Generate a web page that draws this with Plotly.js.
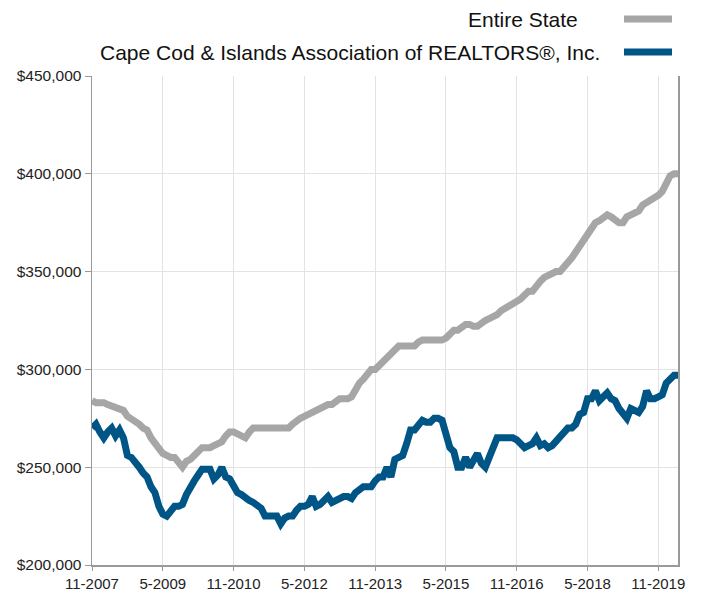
<!DOCTYPE html>
<html>
<head>
<meta charset="utf-8">
<script src="https://cdn.plot.ly/plotly-3.0.1.min.js"></script>
<style>html,body{margin:0;padding:0;background:#fff}#chart{width:702px;height:592px}</style>
</head>
<body>
<div id="chart"></div>
<script>
// Monthly categories from 11-2007 to 4-2020
const startYear = 2007, startMonth = 11, nMonths = 150;
const months = [];
for (let i = 0; i < nMonths; i++) {
  const t = (startMonth - 1) + i;
  months.push(((t % 12) + 1) + '-' + (startYear + Math.floor(t / 12)));
}

const seriesNames = ['Entire State', 'Cape Cod & Islands Association of REALTORS®, Inc.'];

const entireState = [
  284000,283000,283000,283000,282000,281000,280000,280000,279000,276000,
  275000,274000,272000,270000,269000,265000,262000,259000,257000,256000,
  255000,255000,253000,250000,253000,254000,256000,258000,260000,260000,
  260000,261000,262000,263000,266000,268000,268000,267000,266000,265000,
  268000,270000,270000,270000,270000,270000,270000,270000,270000,270000,
  270000,272000,274000,275000,276000,277000,278000,279000,280000,281000,
  282000,282000,283000,285000,285000,285000,286000,290000,293000,295000,
  298000,300000,300000,302000,304000,307000,309000,310000,312000,312000,
  312000,312000,312000,314000,315000,315000,315000,315000,315000,315000,
  316000,318000,320000,320000,322000,323000,323000,322000,322000,324000,
  325000,326000,327000,328000,330000,331000,333000,334000,335000,336000,
  338000,340000,340000,343000,345000,347000,348000,349000,350000,350000,
  352000,355000,357000,360000,363000,366000,369000,372000,375000,376000,
  378000,379000,378000,377000,375000,375000,378000,379000,380000,381000,
  384000,385000,386000,387000,389000,391000,395000,399000,400000,400000
];

const capeCod = [
  270000,272000,268000,265000,268000,270000,266000,269000,265000,256000,
  255000,253000,250000,247000,245000,240000,237000,230000,226000,225000,
  228000,230000,230000,231000,236000,240000,243000,246000,249000,249000,
  249000,244000,246000,250000,245000,244000,241000,237000,236000,234000,
  233000,232000,230000,229000,225000,225000,225000,225000,221000,224000,
  225000,225000,228000,230000,230000,231000,235000,230000,231000,233000,
  235000,232000,233000,234000,235000,235000,234000,237000,239000,240000,
  240000,240000,243000,245000,245000,250000,245000,254000,255000,256000,
  262000,269000,269000,271000,274000,273000,273000,275000,275000,274000,
  265000,260000,258000,250000,250000,255000,250000,254000,257000,252000,
  250000,255000,260000,265000,265000,265000,265000,265000,264000,262000,
  260000,261000,262000,265000,261000,262000,260000,261000,263000,266000,
  268000,270000,270000,272000,277000,278000,285000,285000,289000,284000,
  286000,288000,285000,284000,280000,278000,275000,280000,279000,278000,
  281000,289000,285000,285000,286000,287000,293000,295000,297000,297000
];

const tickLabels = ['11-2007','5-2009','11-2010','5-2012','11-2013','5-2015','11-2016','5-2018','11-2019'];
const yTicks = [200000, 250000, 300000, 350000, 400000, 450000];
const yTickLabels = ['$200,000', '$250,000', '$300,000', '$350,000', '$400,000', '$450,000'];

const grayColor = '#a6a6a6';
const blueColor = '#005587';
const font = 'Liberation Sans, Arial, Helvetica, sans-serif';

const traces = [
  {x: months, y: entireState, name: seriesNames[0], type: 'scatter', mode: 'lines',
   line: {color: grayColor, width: 7}, showlegend: false},
  {x: months, y: capeCod, name: seriesNames[1], type: 'scatter', mode: 'lines',
   line: {color: blueColor, width: 7}, showlegend: false}
];

const layout = {
  width: 702, height: 592,
  margin: {l: 92, r: 24, t: 76, b: 27},
  paper_bgcolor: '#fff', plot_bgcolor: '#fff',
  font: {family: font, size: 15, color: '#222'},
  xaxis: {
    type: 'category',
    range: [0, nMonths - 1],
    tickmode: 'array', tickvals: tickLabels, ticktext: tickLabels,
    showgrid: true, gridcolor: '#e3e3e3', gridwidth: 1,
    showline: true, linecolor: '#999', linewidth: 1.5,
    ticks: 'outside', ticklen: 4, tickcolor: '#999',
    tickfont: {family: font, size: 15, color: '#222'},
    zeroline: false, fixedrange: true
  },
  yaxis: {
    range: [200000, 450000],
    tickmode: 'array', tickvals: yTicks, ticktext: yTickLabels,
    showgrid: true, gridcolor: '#e3e3e3', gridwidth: 1,
    showline: true, linecolor: '#999', linewidth: 1.5, mirror: true,
    ticks: 'outside', ticklen: 6, tickcolor: '#999',
    tickfont: {family: font, size: 15.5, color: '#222'},
    zeroline: false, fixedrange: true
  },
  annotations: [
    {xref: 'paper', yref: 'paper', x: (580 - 92) / 586, y: 1 + (76 - 19) / 489,
     xanchor: 'right', yanchor: 'middle', text: seriesNames[0], showarrow: false,
     font: {family: font, size: 21, color: '#111'}},
    {xref: 'paper', yref: 'paper', x: (602 - 92) / 586, y: 1 + (76 - 52) / 489,
     xanchor: 'right', yanchor: 'middle', text: seriesNames[1], showarrow: false,
     font: {family: font, size: 21, color: '#111'}}
  ],
  shapes: [
    {type: 'line', xref: 'paper', yref: 'paper',
     x0: (624 - 92) / 586, x1: (672 - 92) / 586, y0: 1 + (76 - 19) / 489, y1: 1 + (76 - 19) / 489,
     line: {color: grayColor, width: 7}},
    {type: 'line', xref: 'paper', yref: 'paper',
     x0: (624 - 92) / 586, x1: (672 - 92) / 586, y0: 1 + (76 - 52) / 489, y1: 1 + (76 - 52) / 489,
     line: {color: blueColor, width: 7}}
  ]
};

Plotly.newPlot('chart', traces, layout, {staticPlot: true, displayModeBar: false});
</script>
</body>
</html>
